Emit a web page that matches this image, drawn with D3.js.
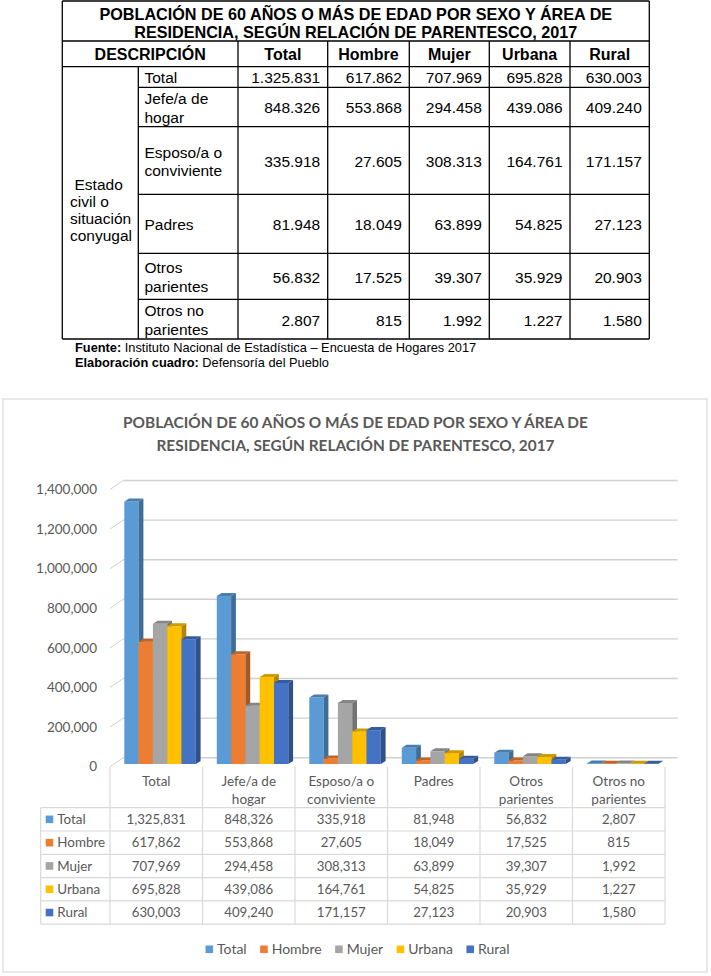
<!DOCTYPE html>
<html>
<head>
<meta charset="utf-8">
<script src="https://cdn.jsdelivr.net/npm/d3@7"></script>
<style>
body{margin:0;background:#fff}
svg{display:block}
</style>
</head>
<body>
<div id="chart"></div>
<script>
// datos del cuadro (INE - Encuesta de Hogares 2017)
var categories = ["Total","Jefe/a de hogar","Esposo/a o conviviente","Padres","Otros parientes","Otros no parientes"];
var categoryLines = [["Total"],["Jefe/a de","hogar"],["Esposo/a o","conviviente"],["Padres"],["Otros","parientes"],["Otros no","parientes"]];
var seriesNames = ["Total","Hombre","Mujer","Urbana","Rural"];
var totalValues  = [1325831, 848326, 335918, 81948, 56832, 2807];
var hombreValues = [617862, 553868, 27605, 18049, 17525, 815];
var mujerValues  = [707969, 294458, 308313, 63899, 39307, 1992];
var urbanaValues = [695828, 439086, 164761, 54825, 35929, 1227];
var ruralValues  = [630003, 409240, 171157, 27123, 20903, 1580];
var yTicks = [0,200000,400000,600000,800000,1000000,1200000,1400000];
var colors = ["#5b9bd5","#ed7d31","#a5a5a5","#ffc000","#4472c4"];
var titleLines = ["POBLACIÓN DE 60 AÑOS O MÁS DE EDAD POR SEXO Y ÁREA DE","RESIDENCIA, SEGÚN RELACIÓN DE PARENTESCO, 2017"];
var rowGroupLabel = ["Estado","civil o","situación","conyugal"];

var seriesValues = [totalValues, hombreValues, mujerValues, urbanaValues, ruralValues];

var W = 711, H = 976;
var svg = d3.select("#chart").append("svg").attr("width", W).attr("height", H);
svg.append("rect").attr("width", W).attr("height", H).attr("fill", "#fff");

/* ---------- cuadro superior ---------- */
var tbl = svg.append("g").attr("font-family", "'Liberation Sans', Arial, sans-serif").attr("fill", "#000");
var colX = [62.3, 138.3, 238, 327.7, 409.3, 489.3, 570, 649.3];
var rowY = [41, 66.7, 87.3, 126.7, 194.3, 253.3, 299.3, 339];
var esNum = d3.formatLocale({decimal: ",", thousands: ".", grouping: [3], currency: ["", ""]}).format(",");

var lines = [];
lines.push([colX[0], 1, colX[7], 1]);
lines.push([colX[0], 1, colX[0], rowY[7]]);
lines.push([colX[7], 1, colX[7], rowY[7]]);
lines.push([colX[0], rowY[0], colX[7], rowY[0]]);
lines.push([colX[0], rowY[1], colX[7], rowY[1]]);
lines.push([colX[0], rowY[7], colX[7], rowY[7]]);
for (var r = 2; r < rowY.length - 1; r++) lines.push([colX[1], rowY[r], colX[7], rowY[r]]);
lines.push([colX[1], rowY[1], colX[1], rowY[7]]);
for (var c = 2; c < colX.length - 1; c++) lines.push([colX[c], rowY[0], colX[c], rowY[7]]);
tbl.selectAll("line.grid").data(lines).enter().append("line")
	.attr("x1", d => d[0]).attr("y1", d => d[1]).attr("x2", d => d[2]).attr("y2", d => d[3])
	.attr("stroke", "#000").attr("stroke-width", 1.3);

tbl.selectAll("text.tt").data(titleLines).enter().append("text")
	.attr("x", (colX[0] + colX[7]) / 2).attr("y", (d, i) => 14 + i * 18).attr("dy", "0.35em")
	.attr("text-anchor", "middle").attr("font-weight", "bold").attr("font-size", 16.2).text(d => d);

tbl.append("text").attr("x", (colX[0] + colX[2]) / 2).attr("y", 54).attr("dy", "0.35em")
	.attr("text-anchor", "middle").attr("font-weight", "bold").attr("font-size", 16).text("DESCRIPCIÓN");
tbl.selectAll("text.hd").data(seriesNames).enter().append("text")
	.attr("x", (d, i) => (colX[i + 2] + colX[i + 3]) / 2).attr("y", 54).attr("dy", "0.35em")
	.attr("text-anchor", "middle").attr("font-weight", "bold").attr("font-size", 16).text(d => d);

categoryLines.forEach(function(lns, i){
	var cy = (rowY[i + 1] + rowY[i + 2]) / 2 + 1;
	lns.forEach(function(t, k){
		tbl.append("text").attr("x", 144.5).attr("y", cy + (k - (lns.length - 1) / 2) * 18.5).attr("dy", "0.35em")
			.attr("font-size", 15.5).text(t);
	});
	seriesValues.forEach(function(vals, j){
		tbl.append("text").attr("x", colX[j + 3] - 7.5).attr("y", cy).attr("dy", "0.35em")
			.attr("text-anchor", "end").attr("font-size", 15.5).text(esNum(vals[i]));
	});
});
rowGroupLabel.forEach(function(t, k){
	tbl.append("text").attr("x", k == 0 ? 74.5 : 70).attr("y", 185 + k * 16.8).attr("dy", "0.35em")
		.attr("font-size", 15.5).text(t);
});

var fuente = tbl.append("text").attr("x", 75).attr("y", 348).attr("dy", "0.35em").attr("font-size", 12.8);
fuente.append("tspan").attr("font-weight", "bold").text("Fuente:");
fuente.append("tspan").text(" Instituto Nacional de Estadística – Encuesta de Hogares 2017");
var elab = tbl.append("text").attr("x", 75).attr("y", 363).attr("dy", "0.35em").attr("font-size", 12.8);
elab.append("tspan").attr("font-weight", "bold").text("Elaboración cuadro:");
elab.append("tspan").text(" Defensoría del Pueblo");

/* ---------- grafico ---------- */
var g = svg.append("g").attr("font-family", "Lato, 'Open Sans', sans-serif").attr("fill", "#595959");
g.append("rect").attr("x", 3).attr("y", 399).attr("width", 704).attr("height", 573)
	.attr("fill", "#fff").attr("stroke", "#d9d9d9").attr("stroke-width", 1.2);

g.selectAll("text.ct").data(titleLines).enter().append("text")
	.attr("x", 355.5).attr("y", (d, i) => 423 + i * 23).attr("dy", "0.35em")
	.attr("text-anchor", "middle").attr("font-weight", "bold").attr("font-size", 15.4).text(d => d);

var x = d3.scaleBand().domain(categories).range([110, 665]);
var xs = d3.scaleBand().domain(seriesNames).range([14.3, 14.3 + 71.5]);
var y = d3.scaleLinear().domain([0, 1400000]).range([764, 486.8]);
var fmt = d3.format(",");
var ddx = 4.8, ddy = -3;      // profundidad de cada barra
var wdx = 13.3, wdy = -9;     // de borde frontal del piso a la pared

// pared de fondo
g.selectAll("line.gl").data(yTicks).enter().append("line")
	.attr("x1", 110 + wdx).attr("x2", 665 + wdx - 0.6)
	.attr("y1", d => y(d) + 2.7 + wdy).attr("y2", d => y(d) + 2.7 + wdy)
	.attr("stroke", "#d0d0d0").attr("stroke-width", 1.4);
g.selectAll("line.tk").data(yTicks).enter().append("line")
	.attr("x1", 110).attr("x2", 110 + wdx)
	.attr("y1", d => y(d) + 2.7).attr("y2", d => y(d) + 2.7 + wdy)
	.attr("stroke", "#d0d0d0").attr("stroke-width", 1);
g.selectAll("text.yl").data(yTicks).enter().append("text")
	.attr("x", 97).attr("y", d => y(d) + 2.7).attr("dy", "0.35em")
	.attr("text-anchor", "end").attr("font-size", 13.5).text(d => fmt(d));

// barras 3D
var bars = [];
categories.forEach(function(cat, i){
	seriesNames.forEach(function(s, j){
		bars.push({cat: cat, s: s, j: j, v: seriesValues[j][i]});
	});
});
var bg = g.selectAll("g.bar").data(bars).enter().append("g");
bg.each(function(d){
	var el = d3.select(this);
	var x0 = x(d.cat) + xs(d.s), w = xs.bandwidth(), y0 = y(0), y1 = y(d.v);
	var col = d3.color(colors[d.j]);
	el.append("rect").attr("x", x0).attr("y", y1).attr("width", w).attr("height", y0 - y1).attr("fill", col);
	el.append("polygon").attr("fill", col.darker(1.0))
		.attr("points", [[x0 + w, y1], [x0 + w + ddx, y1 + ddy], [x0 + w + ddx, y0 + ddy], [x0 + w, y0]].join(" "));
	el.append("polygon").attr("fill", col.darker(0.6))
		.attr("points", [[x0, y1], [x0 + ddx, y1 + ddy], [x0 + w + ddx, y1 + ddy], [x0 + w, y1]].join(" "));
});

// tabla de datos
var rowsTop = 807.7, rowH = 23.3, tblLeft = 40.7;
var tl = g.append("g").attr("stroke", "#d9d9d9").attr("stroke-width", 1.2);
var xEdges = categories.map(c => x(c)).concat([x.range()[1]]);
tl.selectAll("line.v").data(xEdges).enter().append("line")
	.attr("x1", d => d).attr("x2", d => d).attr("y1", 766.7).attr("y2", rowsTop + rowH * 5);
tl.append("line").attr("x1", tblLeft).attr("x2", tblLeft).attr("y1", rowsTop).attr("y2", rowsTop + rowH * 5);
tl.selectAll("line.h").data(d3.range(6)).enter().append("line")
	.attr("x1", tblLeft).attr("x2", x.range()[1]).attr("y1", d => rowsTop + d * rowH).attr("y2", d => rowsTop + d * rowH);

categories.forEach(function(cat, i){
	categoryLines[i].forEach(function(t, k){
		g.append("text").attr("x", x(cat) + x.bandwidth() / 2).attr("y", 781.7 + k * 17.6).attr("dy", "0.35em")
			.attr("text-anchor", "middle").attr("font-size", 13.5).text(t);
	});
});
seriesNames.forEach(function(s, j){
	var cy = rowsTop + rowH * (j + 0.5);
	g.append("rect").attr("x", 45.7).attr("y", cy - 3.8).attr("width", 7.6).attr("height", 7.6).attr("fill", colors[j]);
	g.append("text").attr("x", 57.3).attr("y", cy).attr("dy", "0.35em").attr("font-size", 13.4).text(s);
	categories.forEach(function(cat, i){
		g.append("text").attr("x", x(cat) + x.bandwidth() / 2).attr("y", cy).attr("dy", "0.35em")
			.attr("text-anchor", "middle").attr("font-size", 13.2).text(fmt(seriesValues[j][i]));
	});
});

// leyenda
var lg = g.append("g");
var lx = 0;
seriesNames.forEach(function(s, j){
	lg.append("rect").attr("x", lx).attr("y", 949.3 - 3.8).attr("width", 7.6).attr("height", 7.6).attr("fill", colors[j]);
	var t = lg.append("text").attr("x", lx + 11.5).attr("y", 949.3).attr("dy", "0.35em").attr("font-size", 14).text(s);
	lx += 11.5 + t.node().getComputedTextLength() + 13.5;
});
lg.attr("transform", "translate(" + (357.5 - (lx - 13.5) / 2) + ",0)");
</script>
</body>
</html>
